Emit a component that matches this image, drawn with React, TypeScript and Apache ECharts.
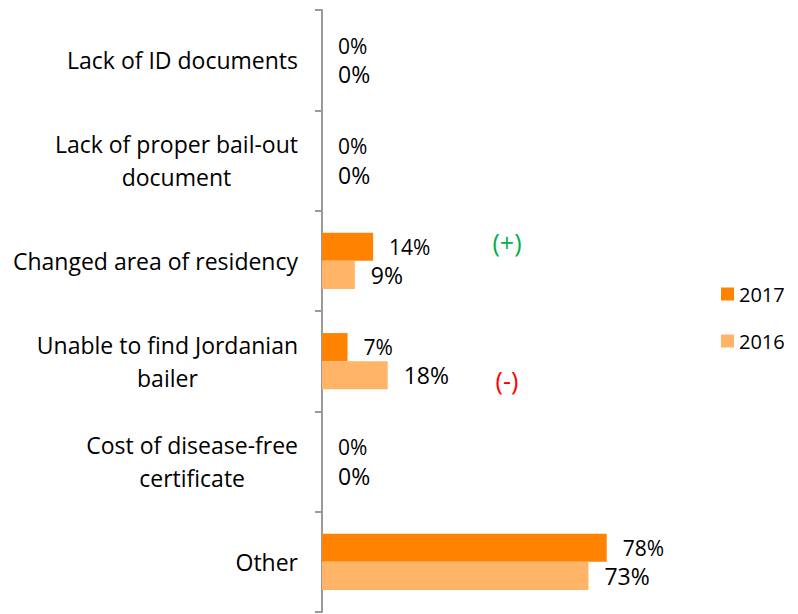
import React, { useEffect, useRef } from "react";
import * as echarts from "echarts";

const categories = [
  "Lack of ID documents",
  "Lack of proper bail-out\ndocument",
  "Changed area of residency",
  "Unable to find Jordanian\nbailer",
  "Cost of disease-free\ncertificate",
  "Other",
];
const values2017 = [0, 0, 14, 7, 0, 78];
const values2016 = [0, 0, 9, 18, 0, 73];
const seriesNames = ["2017", "2016"];

const FONT = "'Open Sans', 'DejaVu Sans', sans-serif";

export default function App() {
  const ref = useRef<HTMLDivElement>(null);

  useEffect(() => {
    document.body.style.margin = "0";
    if (!ref.current) return;
    const chart = echarts.init(ref.current, null, { renderer: "svg" });
    chart.setOption({
      animation: false,
      backgroundColor: "#ffffff",
      grid: { left: 322, top: 10, width: 365, height: 602, containLabel: false },
      legend: {
        orient: "vertical",
        left: 716,
        top: 279,
        icon: "rect",
        itemWidth: 13,
        itemHeight: 13,
        itemGap: 27,
        data: seriesNames,
        textStyle: { fontSize: 20, fontFamily: FONT, color: "#000", lineHeight: 20 },
      },
      xAxis: { type: "value", min: 0, max: 100, show: false },
      yAxis: {
        type: "category",
        inverse: true,
        data: categories,
        axisLine: { show: true, lineStyle: { color: "#9A9A9A", width: 2 } },
        axisTick: { show: true, length: 7, lineStyle: { color: "#9A9A9A", width: 2 } },
        splitLine: { show: false },
        axisLabel: {
          margin: 24,
          align: "right",
          formatter: (v: string) =>
            v
              .split("\n")
              .map((l) => `{c|${l}}`)
              .join("\n"),
          rich: {
            c: { align: "center", fontSize: 23, fontFamily: FONT, color: "#000", lineHeight: 33 },
          },
        },
      },
      series: [
        {
          name: seriesNames[0],
          type: "bar",
          data: values2017,
          barGap: "0%",
          barCategoryGap: "44%",
          itemStyle: { color: "#FF8200" },
          label: {
            show: true,
            position: "right",
            distance: 16,
            formatter: "{c}%",
            fontSize: 21,
            fontFamily: FONT,
            color: "#000",
          },
        },
        {
          name: seriesNames[1],
          type: "bar",
          data: values2016,
          barGap: "0%",
          barCategoryGap: "44%",
          itemStyle: { color: "#FFB467" },
          label: {
            show: true,
            position: "right",
            distance: 16,
            formatter: "{c}%",
            fontSize: 23,
            fontFamily: FONT,
            color: "#000",
          },
        },
      ],
      graphic: [
        {
          type: "text",
          x: 507,
          y: 242,
          style: {
            text: "(+)",
            fill: "#00B050",
            fontSize: 25,
            fontFamily: FONT,
            textAlign: "center",
            textVerticalAlign: "middle",
          },
        },
        {
          type: "text",
          x: 507,
          y: 380,
          style: {
            text: "(-)",
            fill: "#FF0000",
            fontSize: 25,
            fontFamily: FONT,
            textAlign: "center",
            textVerticalAlign: "middle",
          },
        },
      ],
    });
    return () => chart.dispose();
  }, []);

  return <div ref={ref} style={{ width: 798, height: 614 }} />;
}
